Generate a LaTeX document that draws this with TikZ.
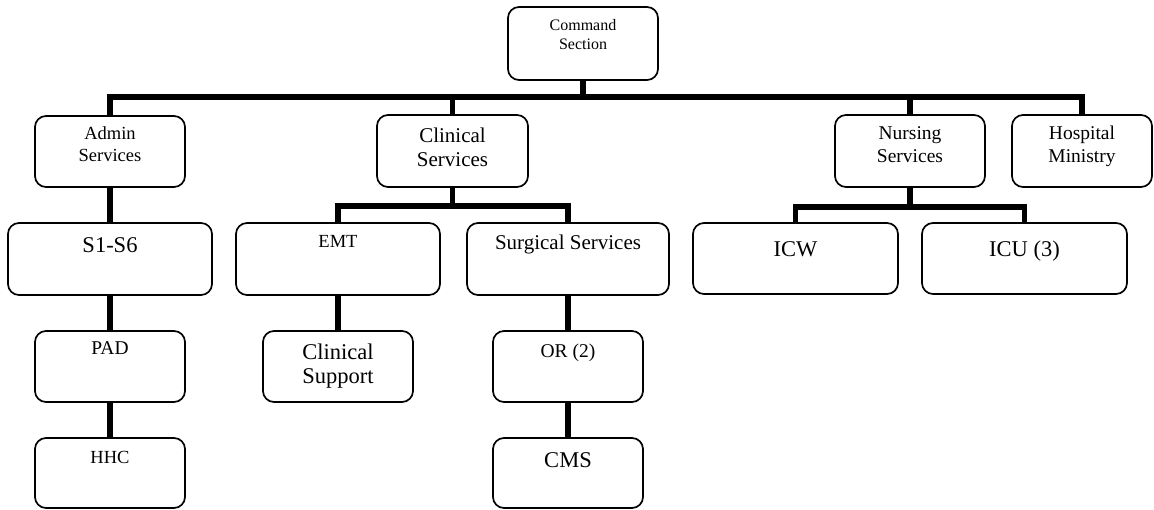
\documentclass[tikz,border=0pt]{standalone}
\usepackage{fontspec}
\setmainfont{Liberation Serif}
\begin{document}
\begin{tikzpicture}[x=1pt,y=-1pt,
  box/.style={draw=black, line width=1.7pt, rounded corners=11pt, fill=white, inner sep=0pt},
  conn/.style={draw=black, line width=5.5pt},
  lbl/.style={inner sep=0pt, anchor=base, text=black},
  fa/.style={font=\fontsize{16}{18}\selectfont},
  fb/.style={font=\fontsize{18.5}{21}\selectfont},
  fc/.style={font=\fontsize{19.5}{22}\selectfont},
  fd/.style={font=\fontsize{21}{24}\selectfont},
  fe/.style={font=\fontsize{22.5}{26}\selectfont}]
\useasboundingbox (0,0) rectangle (1154,510);
% boxes
\node[box, minimum width=150pt, minimum height=73pt] (cmd) at (583,43.5) {};
\node[box, minimum width=150pt, minimum height=71pt] (admin) at (110,151.5) {};
\node[box, minimum width=151pt, minimum height=72pt] (clin) at (452.5,151) {};
\node[box, minimum width=150pt, minimum height=72pt] (nurs) at (910,151) {};
\node[box, minimum width=140pt, minimum height=72pt] (hosp) at (1082,151) {};
\node[box, minimum width=204pt, minimum height=72pt] (s16) at (110,259) {};
\node[box, minimum width=204pt, minimum height=72pt] (emt) at (338,259) {};
\node[box, minimum width=202pt, minimum height=72pt] (surg) at (568,259) {};
\node[box, minimum width=205pt, minimum height=71pt] (icw) at (795.5,258.5) {};
\node[box, minimum width=205pt, minimum height=71pt] (icu) at (1024.5,258.5) {};
\node[box, minimum width=150pt, minimum height=71pt] (pad) at (110,366.5) {};
\node[box, minimum width=150pt, minimum height=70pt] (hhc) at (110,473) {};
\node[box, minimum width=150pt, minimum height=71pt] (csup) at (338,366.5) {};
\node[box, minimum width=150pt, minimum height=71pt] (or) at (568,366.5) {};
\node[box, minimum width=150pt, minimum height=70pt] (cms) at (568,473) {};
% bus coordinates
\coordinate (bus) at (583,97);
\coordinate (cbus) at (452.5,206);
\coordinate (nbus) at (910,207);
% connectors
\draw[conn] (cmd.south) -- (cmd.south |- bus);
\draw[conn] (admin.north) |- (bus) -| (hosp.north);
\draw[conn] (clin.north) -- (clin.north |- bus);
\draw[conn] (nurs.north) -- (nurs.north |- bus);
\draw[conn] (admin.south) -- (s16.north);
\draw[conn] (s16.south) -- (pad.north);
\draw[conn] (pad.south) -- (hhc.north);
\draw[conn] (clin.south) -- (cbus);
\draw[conn] (emt.north) |- (cbus) -| (surg.north);
\draw[conn] (emt.south) -- (csup.north);
\draw[conn] (surg.south) -- (or.north);
\draw[conn] (or.south) -- (cms.north);
\draw[conn] (nurs.south) -- (nbus);
\draw[conn] (icw.north) |- (nbus) -| (icu.north);
% labels
\node[lbl, fa] (cmdA) at (583,31) {Command};
\node[lbl, fa] (cmdB) at (583,50) {Section};
\node[lbl, fb] (adminA) at (110,140) {Admin};
\node[lbl, fb] (adminB) at (110,162) {Services};
\node[lbl, fd] (clinA) at (452.5,143) {Clinical};
\node[lbl, fd] (clinB) at (452.5,167) {Services};
\node[lbl, fc] (nursA) at (910,140) {Nursing};
\node[lbl, fc] (nursB) at (910,163) {Services};
\node[lbl, fc] (hospA) at (1082,140) {Hospital};
\node[lbl, fc] (hospB) at (1082,163) {Ministry};
\node[lbl, fe] (s16t) at (110,253) {S1-S6};
\node[lbl, fb] (emtt) at (338,248) {EMT};
\node[lbl, fd] (surgt) at (568,250) {Surgical Services};
\node[lbl, fe] (icwt) at (795.5,257) {ICW};
\node[lbl, fe] (icut) at (1024.5,257) {ICU (3)};
\node[lbl, fc] (padt) at (110,355) {PAD};
\node[lbl, fe] (csupA) at (338,360) {Clinical};
\node[lbl, fe] (csupB) at (338,384) {Support};
\node[lbl, fc] (ort) at (568,358) {OR (2)};
\node[lbl, fb] (hhct) at (110,463) {HHC};
\node[lbl, fe] (cmst) at (568,467) {CMS};
\end{tikzpicture}
\end{document}
